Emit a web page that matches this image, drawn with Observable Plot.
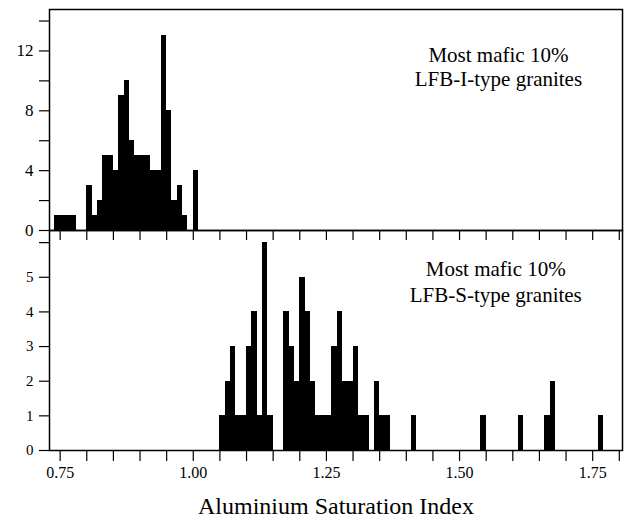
<!DOCTYPE html>
<html><head><meta charset="utf-8">
<script src="https://cdn.jsdelivr.net/npm/d3@7"></script>
<script src="https://cdn.jsdelivr.net/npm/@observablehq/plot@0.6"></script>
<style>
html,body{margin:0;padding:0;background:#fff;}
#chart svg{display:block;}
#chart svg.bottom{margin-top:-2px;}
</style></head><body><div id="chart"></div>
<script>
// Bin starts (ASI) and counts, bin width 0.01
const topBinStart = [0.74,0.75,0.76,0.77,0.80,0.81,0.82,0.83,0.84,0.85,0.86,0.87,0.88,0.89,0.90,0.91,0.92,0.93,0.94,0.95,0.96,0.97,0.98,1.00];
const topCounts   = [1,1,1,1,3,1,2,5,5,4,9,10,6,5,5,5,4,4,13,8,2,3,1,4];
const bottomBinStart = [1.05,1.06,1.07,1.08,1.09,1.10,1.11,1.12,1.13,1.14,1.17,1.18,1.19,1.20,1.21,1.22,1.23,1.24,1.25,1.26,1.27,1.28,1.29,1.30,1.31,1.32,1.34,1.35,1.36,1.41,1.54,1.61,1.66,1.67,1.76];
const bottomCounts   = [1,2,3,1,1,3,4,1,6,1,4,3,2,5,4,2,1,1,1,3,4,2,2,3,1,1,2,1,1,1,1,1,1,2,1];
const binWidth = 0.01;

const xTickValues = [0.75,0.80,0.85,0.90,0.95,1.00,1.05,1.10,1.15,1.20,1.25,1.30,1.35,1.40,1.45,1.50,1.55,1.60,1.65,1.70,1.75,1.80];
const xTickLabels = [0.75,1.00,1.25,1.50,1.75];
const topYTicks = [0,2,4,6,8,10,12,14];
const topYLabels = [0,4,8,12];
const bottomYTicks = [0,1,2,3,4,5,6];
const bottomYLabels = [0,1,2,3,4,5];
const topNote = "Most mafic 10%\nLFB-I-type granites";
const bottomNote = "Most mafic 10%\nLFB-S-type granites";
const xTitle = "Aluminium Saturation Index";

const xDomain = [0.73, 1.806];
const topYMax = 14.77;
const bottomYMax = 6.35;
const topNotePos = {x: 1.573, y: 9.65};
const bottomNotePos = {x: 1.568, y: 4.28};

const topData = topBinStart.map((x, i) => ({x1: x, x2: x + binWidth, n: topCounts[i]}));
const bottomData = bottomBinStart.map((x, i) => ({x1: x, x2: x + binWidth, n: bottomCounts[i]}));

const font = "'Liberation Serif', 'Times New Roman', serif";
const W = 626, ML = 49, MR = 4;

const topPlot = Plot.plot({
  width: W, height: 231,
  marginTop: 9, marginBottom: 1, marginLeft: ML, marginRight: MR,
  x: {domain: xDomain, axis: null},
  y: {domain: [0, topYMax], label: null},
  style: {fontFamily: font, fontSize: "17px", color: "black", background: "white", overflow: "visible"},
  marks: [
    Plot.rectY(topData, {x1: "x1", x2: "x2", y: "n", fill: "black", shapeRendering: "crispEdges"}),
    Plot.axisY(topYTicks, {tickSize: 10, strokeWidth: 1.2, tickFormat: () => "", label: null}),
    Plot.axisY(topYLabels, {tickSize: 0, tickPadding: 16, fontSize: 17, label: null}),
    Plot.text([topNote], {x: () => topNotePos.x, y: () => topNotePos.y, fontSize: 21, lineHeight: 1.16, lineAnchor: "bottom", textAnchor: "middle", fill: "black"}),
    Plot.frame({stroke: "black", strokeWidth: 1.5})
  ]
});

const bottomH = 288, bMT = 1, bMB = 67;
const bottomPanelH = bottomH - bMT - bMB;

const bottomPlot = Plot.plot({
  width: W, height: bottomH,
  marginTop: bMT, marginBottom: bMB, marginLeft: ML, marginRight: MR,
  x: {domain: xDomain, label: null},
  y: {domain: [0, bottomYMax], label: null},
  style: {fontFamily: font, fontSize: "15px", color: "black", background: "white", overflow: "visible"},
  marks: [
    Plot.rectY(bottomData, {x1: "x1", x2: "x2", y: "n", fill: "black", shapeRendering: "crispEdges"}),
    Plot.tickX(xTickValues, {x: d => d, insetBottom: bottomPanelH - 10, stroke: "black", strokeWidth: 1.2}),
    Plot.axisY(bottomYTicks, {tickSize: 10, strokeWidth: 1.2, tickFormat: () => "", label: null}),
    Plot.axisY(bottomYLabels, {tickSize: 0, tickPadding: 16, fontSize: 15, label: null}),
    Plot.axisX(xTickValues, {tickSize: 11, strokeWidth: 1.2, tickFormat: () => "", label: null}),
    Plot.axisX(xTickLabels, {tickSize: 0, tickPadding: 16, fontSize: 16, tickFormat: d3.format(".2f"), label: null}),
    Plot.text([bottomNote], {x: () => bottomNotePos.x, y: () => bottomNotePos.y, fontSize: 21, lineHeight: 1.27, lineAnchor: "bottom", textAnchor: "middle", fill: "black"}),
    Plot.text([xTitle], {frameAnchor: "bottom", dy: 63, lineAnchor: "bottom", fontSize: 24, fill: "black"}),
    Plot.frame({stroke: "black", strokeWidth: 1.5})
  ]
});
bottomPlot.classList.add("bottom");

document.getElementById("chart").append(topPlot, bottomPlot);
</script></body></html>
